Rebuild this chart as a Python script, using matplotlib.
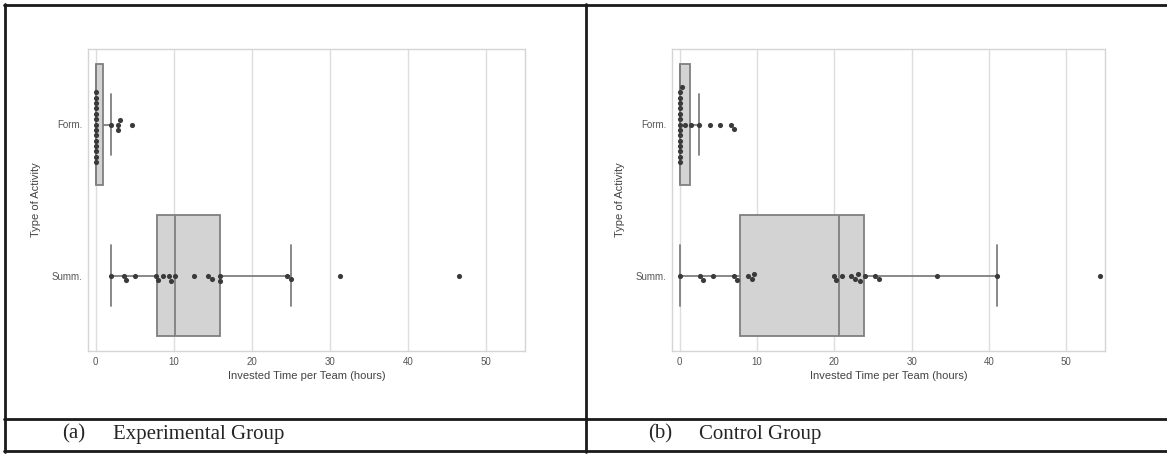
import matplotlib
matplotlib.use('Agg')
import matplotlib.pyplot as plt
import seaborn as sns
import pandas as pd
from matplotlib.lines import Line2D

activities = ['Form.', 'Summ.']

# experimental group (a)
exp_form = [0, 0, 0, 0, 0, 0, 0, 0, 0, 0, 0, 0, 0, 0,
            1.9, 2.8, 2.9, 3.1, 4.7]
exp_summ = [1.93, 3.55, 3.85, 5.05, 7.7, 8.0, 8.56, 9.4, 9.6, 10.15,
            12.6, 14.4, 14.85, 15.9, 15.95, 24.5, 25.0, 31.3, 46.5]

# control group (b)
ctrl_form = [0, 0, 0, 0, 0, 0, 0, 0, 0, 0, 0, 0, 0, 0,
             0.25, 0.74, 1.47, 2.5, 3.96, 5.25, 6.63, 7.06]
ctrl_summ = [0, 2.58, 3.02, 4.26, 6.97, 7.4, 8.8, 9.3, 9.6, 19.9, 20.2,
             20.95, 22.2, 22.7, 23.0, 23.3, 24.0, 25.25, 25.77, 33.3, 41.0, 54.3]

x_ticks = [0, 10, 20, 30, 40, 50]
tags = ['(a)', '(b)']
captions = ['Experimental Group', 'Control Group']

sns.set_theme(style='whitegrid')
plt.rcParams['font.family'] = ['Liberation Sans', 'DejaVu Sans']

fig = plt.figure(figsize=(11.67, 4.55), dpi=100)
ax1 = fig.add_axes([88/1167, 1-351/455, 437/1167, 302/455])
ax2 = fig.add_axes([672/1167, 1-351/455, 433/1167, 302/455])

edge = '#7f7f7f'


def draw(ax, form, summ):
    df = pd.DataFrame({'activity': ['Form.']*len(form) + ['Summ.']*len(summ),
                       'hours': form + summ})
    sns.boxplot(data=df, x='hours', y='activity', order=activities,
                color='lightgray', width=0.8, showfliers=False,
                linewidth=1.3, ax=ax)
    for ln in ax.lines:
        ln.set_color(edge)
    for p in ax.patches:
        p.set_edgecolor(edge)
        p.set_facecolor('#d3d3d3')
    sns.swarmplot(data=df, x='hours', y='activity', order=activities,
                  color='#3a3a3a', size=3.7, ax=ax)
    ax.set_xlim(-1, 55)
    ax.set_ylim(1.5, -0.5)
    ax.set_xticks(x_ticks)
    ax.grid(True, axis='x', color='#dddddd', lw=1)
    ax.grid(False, axis='y')
    for s in ax.spines.values():
        s.set_color('#d5d5d5')
        s.set_linewidth(1)
    ax.set_xlabel('Invested Time per Team (hours)', fontsize=8, color='#444444', labelpad=3)
    ax.set_ylabel('Type of Activity', fontsize=8, color='#444444', labelpad=8)
    ax.tick_params(labelsize=7, colors='#555555', length=0, pad=4)


draw(ax1, exp_form, exp_summ)
draw(ax2, ctrl_form, ctrl_summ)

# table frame around the two panels
H = 455.0
W = 1167.0
lw = 2.0
def fx(px):
    return px / W
def fy(py):
    return 1 - py / H

fig.add_artist(Line2D([fx(4), 1], [fy(5), fy(5)], color='k', lw=lw))
fig.add_artist(Line2D([fx(4), 1], [fy(419), fy(419)], color='k', lw=lw))
fig.add_artist(Line2D([fx(4), 1], [fy(451), fy(451)], color='k', lw=lw))
fig.add_artist(Line2D([fx(5), fx(5)], [fy(4), fy(452)], color='k', lw=lw))
fig.add_artist(Line2D([fx(586), fx(586)], [fy(4), fy(452)], color='k', lw=lw))

serif = ['Liberation Serif', 'DejaVu Serif']
fig.text(fx(62), fy(434), tags[0], fontsize=15, family=serif, va='center')
fig.text(fx(113), fy(434), captions[0], fontsize=15, family=serif, va='center')
fig.text(fx(648), fy(434), tags[1], fontsize=15, family=serif, va='center')
fig.text(fx(699), fy(434), captions[1], fontsize=15, family=serif, va='center')

fig.savefig('out.png', dpi=100, facecolor='white')
